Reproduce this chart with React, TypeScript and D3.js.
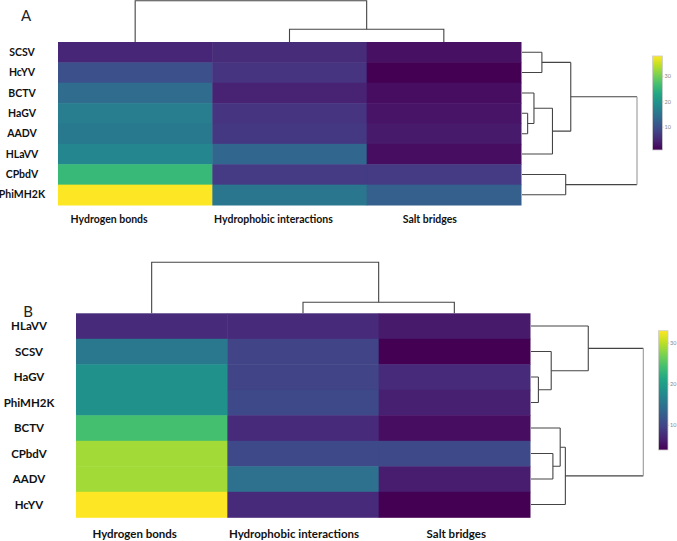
import React from "react";
import * as d3 from "d3";

// ---------- DATA ----------
const columns = ["Hydrogen bonds", "Hydrophobic interactions", "Salt bridges"];

const rowsA = ["SCSV", "HcYV", "BCTV", "HaGV", "AADV", "HLaVV", "CPbdV", "PhiMH2K"];
const hydrogenA = [5, 10, 14, 16.5, 16, 18, 26, 38];
const hydrophobicA = [5.5, 6.5, 4.5, 6.5, 7, 13, 7.5, 15.5];
const saltA = [2.5, 1, 2.3, 3, 3.5, 2.2, 7.5, 12];
const colorTicksA = [10, 20, 30];

const rowsB = ["HLaVV", "SCSV", "HaGV", "PhiMH2K", "BCTV", "CPbdV", "AADV", "HcYV"];
const hydrogenB = [7.5, 15.6, 18.5, 18.5, 24.3, 29, 29, 33];
const hydrophobicB = [7.5, 9.8, 9.8, 10.4, 7.5, 10.4, 14.7, 7.5];
const saltB = [6, 4, 7.5, 6.6, 5, 10.4, 6.3, 4];
const colorTicksB = [10, 20, 30];

// merges: [left, right, height]; left/right = leaf name or index of an earlier merge
type Merge = [string | number, string | number, number];
const rowMergesA: Merge[] = [
  ["SCSV", "HcYV", 0.173],
  ["HaGV", "AADV", 0.049],
  ["BCTV", 1, 0.104],
  [2, "HLaVV", 0.265],
  [0, 3, 0.424],
  ["CPbdV", "PhiMH2K", 0.38],
  [4, 5, 1],
];
const colMergesA: Merge[] = [
  ["Hydrophobic interactions", "Salt bridges", 0.31],
  ["Hydrogen bonds", 0, 1],
];
const rowMergesB: Merge[] = [
  ["HaGV", "PhiMH2K", 0.066],
  ["SCSV", 0, 0.18],
  ["HLaVV", 1, 0.51],
  ["CPbdV", "AADV", 0.195],
  ["BCTV", 3, 0.26],
  [4, "HcYV", 0.306],
  [2, 5, 1],
];
const colMergesB: Merge[] = [
  ["Hydrophobic interactions", "Salt bridges", 0.216],
  ["Hydrogen bonds", 0, 1],
];

// ---------- LAYOUT ----------
type Layout = {
  letter: string; letterX: number; letterY: number;
  x0: number; x1: number; y0: number; y1: number;
  rowRoot: number; colRoot: number;
  rowLabelX: number; rowFont: number;
  colLabelDx: number[]; colLabelY: number; colFont: number;
  cbX: number; cbW: number; cbY0: number; cbY1: number;
};

const layoutA: Layout = {
  letter: "A", letterX: 26, letterY: 21,
  x0: 58, x1: 521, y0: 42, y1: 205,
  rowRoot: 637, colRoot: 0.8,
  rowLabelX: 22, rowFont: 10.5,
  colLabelDx: [-26, -16, -14], colLabelY: 223, colFont: 10.5,
  cbX: 652.5, cbW: 10, cbY0: 56, cbY1: 150,
};
const layoutB: Layout = {
  letter: "B", letterX: 28, letterY: 317,
  x0: 76, x1: 530, y0: 313.3, y1: 517.3,
  rowRoot: 643.3, colRoot: 262.3,
  rowLabelX: 29, rowFont: 11.5,
  colLabelDx: [-17, -9, 2], colLabelY: 538, colFont: 11.5,
  cbX: 658.5, cbW: 9.5, cbY0: 330.7, cbY1: 450,
};

function dendro(merges: Merge[], pos: (leaf: string) => number) {
  const nodes: { p: number; h: number }[] = [];
  const get = (k: string | number) => (typeof k === "number" ? nodes[k] : { p: pos(k), h: 0 });
  const segs: { a: { p: number; h: number }; b: { p: number; h: number }; h: number }[] = [];
  merges.forEach(([l, r, h]) => {
    const a = get(l);
    const b = get(r);
    segs.push({ a, b, h });
    nodes.push({ p: (a.p + b.p) / 2, h });
  });
  return segs;
}

function Panel({ id, rows, values, rowMerges, colMerges, ticks, L }: {
  id: string; rows: string[]; values: number[][]; rowMerges: Merge[]; colMerges: Merge[];
  ticks: number[]; L: Layout;
}) {
  const x = d3.scaleBand<string>().domain(columns).range([L.x0, L.x1]);
  const y = d3.scaleBand<string>().domain(rows).range([L.y0, L.y1]);
  const all = values.flat();
  const ext = d3.extent(all) as [number, number];
  const color = d3.scaleSequential(d3.interpolateViridis).domain(ext);
  const hx = d3.scaleLinear().domain([0, 1]).range([L.x1 + 1, L.rowRoot]);
  const hy = d3.scaleLinear().domain([0, 1]).range([L.y0, L.colRoot]);
  const rowSegs = dendro(rowMerges, (r) => (y(r) as number) + y.bandwidth() / 2);
  const colSegs = dendro(colMerges, (c) => (x(c) as number) + x.bandwidth() / 2);
  const cb = d3.scaleLinear().domain(ext).range([L.cbY1, L.cbY0]);
  const stops = d3.range(0, 1.0001, 0.1);
  const gid = "grad" + id;
  const font = "Lato, 'Open Sans', sans-serif";
  return (
    <g>
      <defs>
        <linearGradient id={gid} x1="0" y1="1" x2="0" y2="0">
          {stops.map((t) => (
            <stop key={t} offset={t} stopColor={d3.interpolateViridis(t)} />
          ))}
        </linearGradient>
      </defs>
      <text x={L.letterX} y={L.letterY} fontSize={15} fontFamily={font} textAnchor="middle" fill="#222">
        {L.letter}
      </text>
      {rows.map((r, i) =>
        columns.map((c, j) => (
          <rect key={r + c} x={x(c)} y={y(r)} width={x.bandwidth() + 0.5} height={y.bandwidth() + 0.5}
            fill={color(values[j][i])} />
        ))
      )}
      {rows.map((r) => (
        <text key={r} x={L.rowLabelX} y={(y(r) as number) + y.bandwidth() / 2} dy="0.35em"
          textAnchor="middle" fontSize={L.rowFont} fontWeight={700} fontFamily={font} fill="#111">
          {r}
        </text>
      ))}
      {columns.map((c, j) => (
        <text key={c} x={(x(c) as number) + x.bandwidth() / 2 + L.colLabelDx[j]} y={L.colLabelY}
          textAnchor="middle" fontSize={L.colFont} fontWeight={700} fontFamily={font} fill="#111">
          {c}
        </text>
      ))}
      {rowSegs.map((s, i) => (
        <g key={"r" + i}>
          <path fill="none" stroke="#444" strokeWidth={1.1}
            d={`M${hx(s.a.h)},${s.a.p}H${hx(s.h)}M${hx(s.h)},${s.b.p}H${hx(s.b.h)}`} />
          <path fill="none" stroke={s.h === 1 ? "#999" : "#444"} strokeWidth={1.1}
            d={`M${hx(s.h)},${s.a.p}V${s.b.p}`} />
        </g>
      ))}
      {colSegs.map((s, i) => (
        <path key={"c" + i} fill="none" stroke="#444" strokeWidth={1.1}
          d={`M${s.a.p},${hy(s.a.h)}V${hy(s.h)}H${s.b.p}V${hy(s.b.h)}`} />
      ))}
      <rect x={L.cbX} y={L.cbY0} width={L.cbW} height={L.cbY1 - L.cbY0} fill={`url(#${gid})`}
        stroke="#ccc" strokeWidth={0.8} />
      {ticks.map((t) => (
        <g key={t}>
          <line x1={L.cbX + L.cbW} x2={L.cbX + L.cbW + 1.2} y1={cb(t)} y2={cb(t)} stroke="#bbb" strokeWidth={0.6} />
          <text x={L.cbX + L.cbW + 2} y={cb(t)} dy="0.35em" fontSize={5.5} fontFamily={font} fill="#888">
            {t}
          </text>
        </g>
      ))}
    </g>
  );
}

export default function App() {
  return (
    <svg width={677} height={541} style={{ position: "absolute", left: 0, top: 0, background: "#fff" }}>
      <rect width={677} height={541} fill="#fff" />
      <Panel id="A" rows={rowsA} values={[hydrogenA, hydrophobicA, saltA]} rowMerges={rowMergesA}
        colMerges={colMergesA} ticks={colorTicksA} L={layoutA} />
      <Panel id="B" rows={rowsB} values={[hydrogenB, hydrophobicB, saltB]} rowMerges={rowMergesB}
        colMerges={colMergesB} ticks={colorTicksB} L={layoutB} />
    </svg>
  );
}
